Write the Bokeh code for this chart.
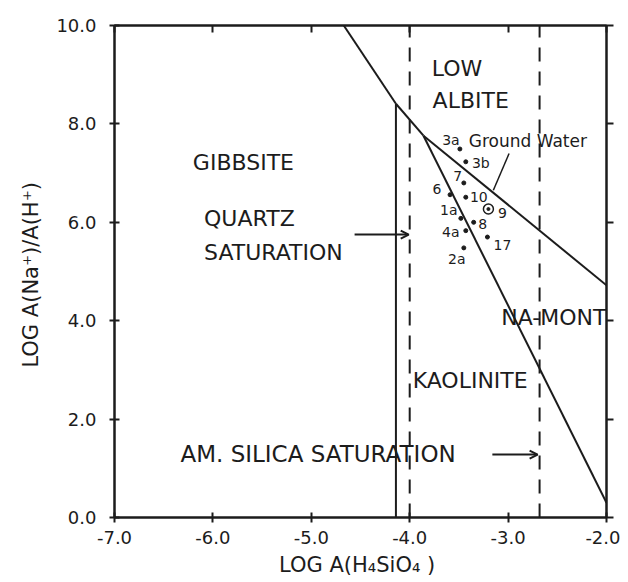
from bokeh.plotting import figure
from bokeh.models import Label, Arrow, OpenHead, FixedTicker, PrintfTickFormatter, ColumnDataSource, LinearAxis
from bokeh.core.properties import value
from bokeh.embed import file_html
from bokeh.resources import INLINE

# ---- data ----
samples = ["3a", "3b", "7", "6", "10", "1a", "8", "4a", "17", "2a"]
sample_x = [-3.49, -3.43, -3.45, -3.59, -3.43, -3.48, -3.35, -3.43, -3.21, -3.45]
sample_y = [7.49, 7.23, 6.80, 6.56, 6.51, 6.08, 6.00, 5.83, 5.70, 5.48]
ground_water_label = ["9"]
ground_water_x = [-3.20]
ground_water_y = [6.27]

x_ticks = [-7, -6, -5, -4, -3, -2]
y_ticks = [0, 2, 4, 6, 8, 10]
x_min, x_max = -7, -2
y_min, y_max = 0, 10

gibbsite_albite_x = [-4.67, -4.14]
gibbsite_albite_y = [10.0, 8.41]
gibbsite_kaolinite_x = [-4.14, -4.14]
gibbsite_kaolinite_y = [0.0, 8.41]
albite_kaolinite_x = [-4.14, -3.86]
albite_kaolinite_y = [8.41, 7.76]
albite_namont_x = [-3.86, -2.0]
albite_namont_y = [7.76, 4.72]
kaolinite_namont_x = [-3.86, -2.0]
kaolinite_namont_y = [7.76, 0.30]
quartz_saturation_x = -4.0
am_silica_saturation_x = -2.68

# label offsets in screen pixels (style)
label_dx = [-9, 15, -6, -13, 13, -12, 9, -15, 15, -7]
label_dy = [-9, 1, -7, -6, 0, -8, 2, 1, 8, 11]

INK = "#1c1c1c"
FONT = "DejaVu Sans"

p = figure(frame_width=492, frame_height=492, x_range=(x_min, x_max), y_range=(y_min, y_max),
           output_backend="svg", toolbar_location=None,
           min_border_left=114, min_border_top=25, min_border_right=14, min_border_bottom=40)
p.grid.visible = False
p.outline_line_color = INK
p.outline_line_width = 2
p.background_fill_color = "white"
p.border_fill_color = "white"

p.xaxis.ticker = FixedTicker(ticks=x_ticks)
p.yaxis.ticker = FixedTicker(ticks=y_ticks)
for ax in (p.xaxis[0], p.yaxis[0]):
    ax.formatter = PrintfTickFormatter(format="%.1f")
    ax.axis_line_color = INK
    ax.axis_line_width = 2
    ax.major_tick_line_color = INK
    ax.major_tick_line_width = 2
    ax.major_tick_in = 5
    ax.major_tick_out = 5
    ax.minor_tick_line_color = None
    ax.major_label_text_font = FONT
    ax.major_label_text_font_size = "18px"
    ax.major_label_text_color = INK
    ax.axis_label_text_font = FONT
    ax.axis_label_text_font_size = "21px"
    ax.axis_label_text_font_style = "normal"
    ax.axis_label_text_color = INK
p.xaxis.axis_label = "LOG  A(H\u2084SiO\u2084 )"
p.yaxis.axis_label = "LOG  A(Na\u207a)/A(H\u207a)"
p.yaxis.major_label_standoff = 13
p.xaxis.major_label_standoff = 8
p.yaxis.axis_label_standoff = 10
p.xaxis.axis_label_standoff = 6

# border ticks on top (inward) and right (outward), unlabeled
top = LinearAxis(ticker=FixedTicker(ticks=x_ticks), major_tick_in=7, major_tick_out=0,
                 major_label_text_color=None, major_label_text_font_size="1px",
                 major_label_standoff=0, axis_line_color=INK, axis_line_width=2,
                 major_tick_line_color=INK, major_tick_line_width=2, minor_tick_line_color=None)
right = LinearAxis(ticker=FixedTicker(ticks=y_ticks), major_tick_in=0, major_tick_out=7,
                   major_label_text_color=None, major_label_text_font_size="1px",
                   major_label_standoff=0, axis_line_color=INK, axis_line_width=2,
                   major_tick_line_color=INK, major_tick_line_width=2, minor_tick_line_color=None)
p.add_layout(top, "above")
p.add_layout(right, "right")

# boundaries
for bx, by in [(gibbsite_albite_x, gibbsite_albite_y),
               (gibbsite_kaolinite_x, gibbsite_kaolinite_y),
               (albite_kaolinite_x, albite_kaolinite_y),
               (albite_namont_x, albite_namont_y),
               (kaolinite_namont_x, kaolinite_namont_y)]:
    p.line(bx, by, line_color=INK, line_width=2)

# saturation lines
for sx in (quartz_saturation_x, am_silica_saturation_x):
    p.line([sx, sx], [y_min, y_max], line_color=INK, line_width=2, line_dash="14 10")

# samples
src = ColumnDataSource(dict(x=sample_x, y=sample_y, t=samples, dx=label_dx, dy=label_dy))
p.scatter("x", "y", source=src, size=4, color=INK)
p.text("x", "y", text="t", source=src, x_offset="dx", y_offset="dy",
       text_font=value(FONT), text_font_size="14px", text_color=INK,
       text_align="center", text_baseline="middle")
p.scatter(ground_water_x, ground_water_y, size=10, fill_color=None, line_color=INK, line_width=1.5)
p.scatter(ground_water_x, ground_water_y, size=3, color=INK)
p.text(ground_water_x, ground_water_y, text=ground_water_label, x_offset=14, y_offset=4,
       text_font=value(FONT), text_font_size="14px", text_color=INK,
       text_align="center", text_baseline="middle")

# region labels
def lab(x, y, t, size="22px", align="left", style="normal"):
    p.add_layout(Label(x=x, y=y, text=t, text_font=FONT, text_font_size=size,
                       text_font_style=style, text_color=INK,
                       text_align=align, text_baseline="middle"))

lab(-3.52, 9.13, "LOW", align="center")
lab(-3.38, 8.48, "ALBITE", align="center")
lab(-5.69, 7.22, "GIBBSITE", align="center")
lab(-6.09, 6.08, "QUARTZ")
lab(-6.09, 5.39, "SATURATION")
lab(-3.07, 4.07, "NA-MONT")
lab(-3.97, 2.78, "KAOLINITE")
lab(-6.33, 1.30, "AM. SILICA   SATURATION", size="23px")
lab(-3.40, 7.65, "Ground Water", size="17px")

# pointers
p.add_layout(Arrow(end=OpenHead(size=8, line_color=INK, line_width=2), line_color=INK, line_width=2,
                   x_start=-4.56, y_start=5.75, x_end=-4.01, y_end=5.75))
p.add_layout(Arrow(end=OpenHead(size=8, line_color=INK, line_width=2), line_color=INK, line_width=2,
                   x_start=-3.16, y_start=1.28, x_end=-2.70, y_end=1.28))
p.line([-2.99, -3.15], [7.40, 6.65], line_color=INK, line_width=1.5)

open("out.html", "w").write(file_html(p, INLINE))
